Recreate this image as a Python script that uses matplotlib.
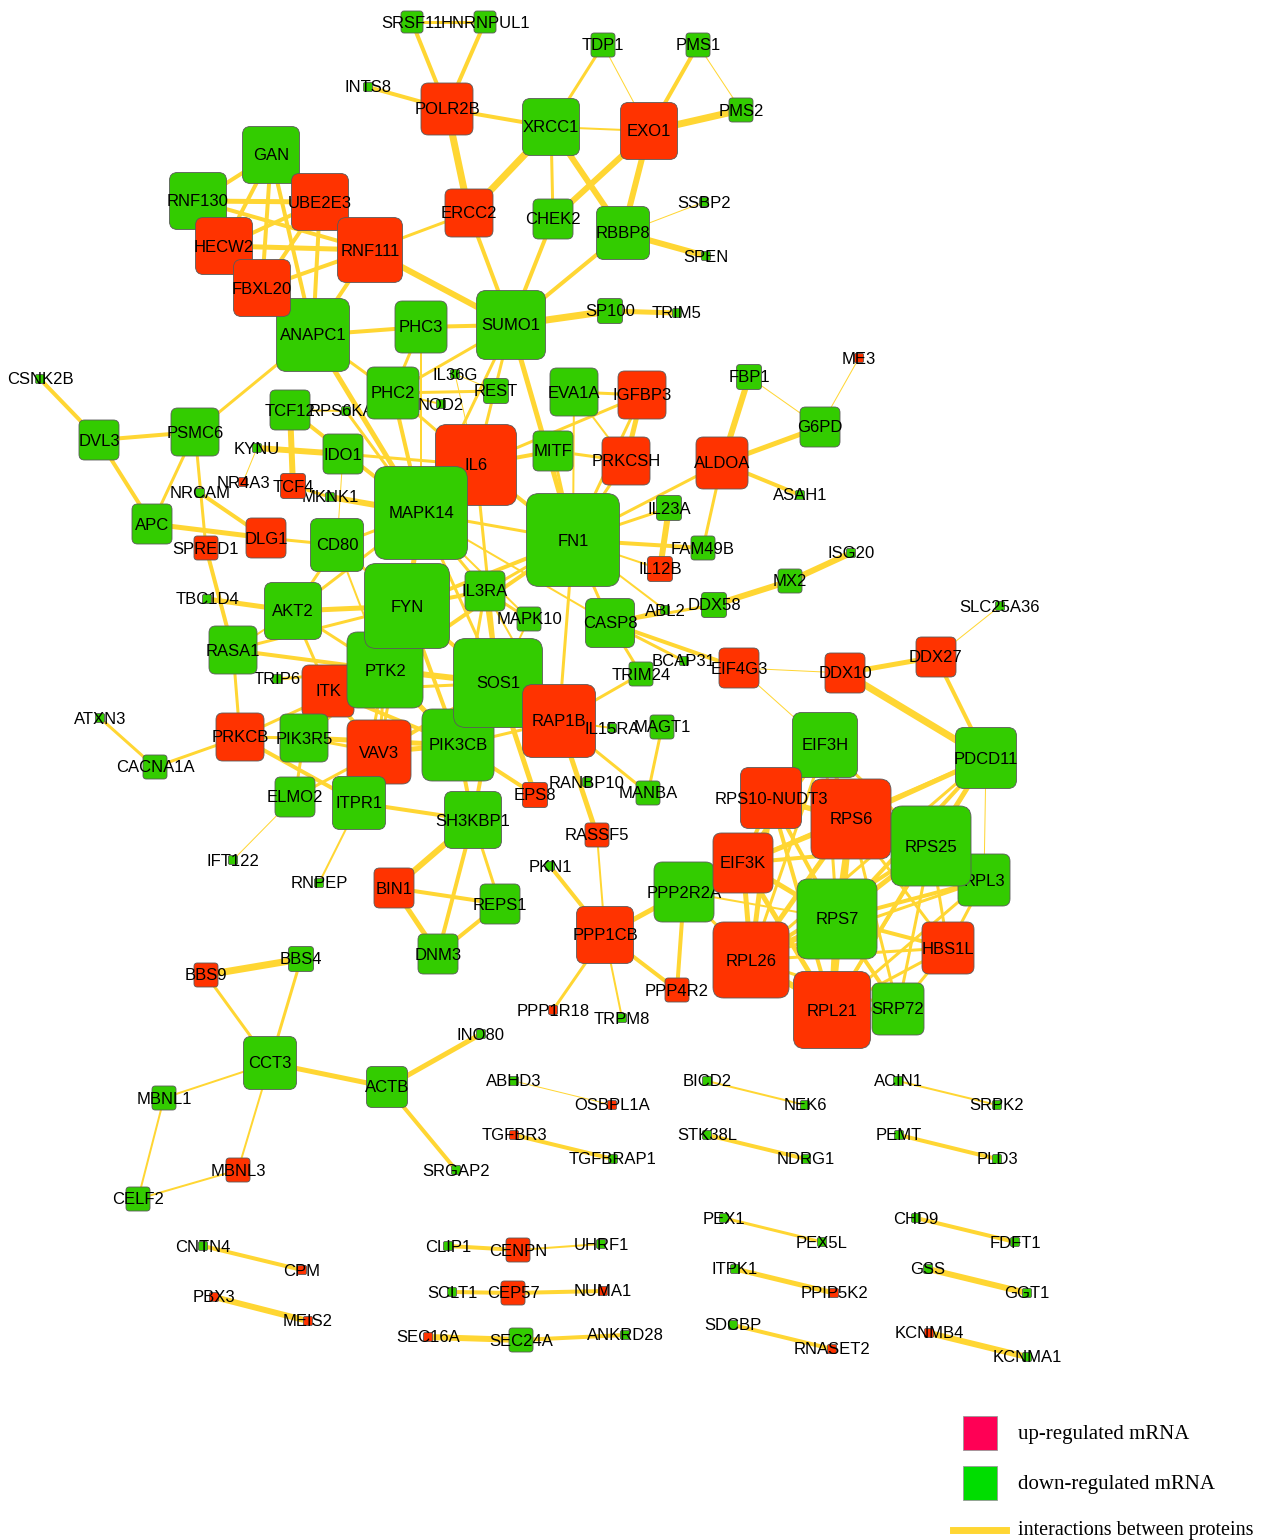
import matplotlib.pyplot as plt
from matplotlib.patches import FancyBboxPatch, Rectangle
from matplotlib.collections import LineCollection
from matplotlib.lines import Line2D

# differentially expressed genes
up_genes = ["POLR2B", "EXO1", "ERCC2", "UBE2E3", "HECW2", "RNF111", "FBXL20", "IL6",
            "IGFBP3", "PRKCSH", "ALDOA", "ME3", "NR4A3", "TCF4", "DLG1", "SPRED1", "IL12B",
            "EIF4G3", "DDX10", "DDX27", "ITK", "RAP1B", "PRKCB", "VAV3", "EPS8", "RASSF5",
            "BIN1", "PPP1CB", "PPP1R18", "PPP4R2", "RPS10-NUDT3", "RPS6", "EIF3K", "HBS1L",
            "RPL26", "RPL21", "BBS9", "MBNL3", "OSBPL1A", "TGFBR3", "PPIP5K2", "RNASET2",
            "KCNMB4", "CPM", "PBX3", "MEIS2", "CENPN", "CEP57", "NUMA1", "SEC16A"]

# protein-protein interactions (node a, node b, edge width in px)
edges = [
    ("SRSF11", "HNRNPUL1", 3), ("SRSF11", "POLR2B", 4), ("HNRNPUL1", "POLR2B", 4),
    ("INTS8", "POLR2B", 4), ("POLR2B", "XRCC1", 4), ("POLR2B", "ERCC2", 7),
    ("TDP1", "XRCC1", 3), ("TDP1", "EXO1", 1), ("PMS1", "EXO1", 4), ("PMS1", "PMS2", 1),
    ("EXO1", "PMS2", 7), ("XRCC1", "EXO1", 2), ("XRCC1", "ERCC2", 7), ("XRCC1", "CHEK2", 3),
    ("XRCC1", "RBBP8", 6), ("EXO1", "CHEK2", 6), ("EXO1", "RBBP8", 6), ("RBBP8", "SSBP2", 1),
    ("RBBP8", "SPEN", 6), ("RBBP8", "SUMO1", 4), ("CHEK2", "SUMO1", 4), ("ERCC2", "SUMO1", 4),
    ("ERCC2", "RNF111", 3), ("RNF111", "SUMO1", 6), ("SUMO1", "SP100", 7), ("SP100", "TRIM5", 5),
    ("SUMO1", "PHC3", 4), ("PHC3", "ANAPC1", 4), ("SUMO1", "PHC2", 3), ("SUMO1", "MAPK14", 3),
    ("SUMO1", "FN1", 5), ("SUMO1", "IL6", 3), ("PHC3", "PHC2", 3), ("PHC3", "MAPK14", 2),
    ("GAN", "RNF130", 4), ("GAN", "UBE2E3", 3), ("GAN", "HECW2", 4), ("GAN", "FBXL20", 4),
    ("GAN", "ANAPC1", 4), ("GAN", "RNF111", 3), ("RNF130", "UBE2E3", 5), ("RNF130", "RNF111", 4),
    ("RNF130", "HECW2", 3), ("RNF130", "FBXL20", 3), ("UBE2E3", "HECW2", 4), ("UBE2E3", "FBXL20", 4),
    ("UBE2E3", "ANAPC1", 4), ("UBE2E3", "RNF111", 3), ("HECW2", "RNF111", 5), ("HECW2", "ANAPC1", 3),
    ("FBXL20", "RNF111", 4), ("FBXL20", "ANAPC1", 3), ("RNF111", "ANAPC1", 4), ("ANAPC1", "PSMC6", 3),
    ("ANAPC1", "MAPK14", 5), ("ANAPC1", "PHC2", 3),
    ("CSNK2B", "DVL3", 4), ("DVL3", "PSMC6", 4), ("DVL3", "APC", 4), ("PSMC6", "APC", 3),
    ("PSMC6", "SPRED1", 3), ("APC", "DLG1", 5), ("NRCAM", "DLG1", 4), ("DLG1", "CD80", 3),
    ("SPRED1", "RASA1", 4), ("KYNU", "IDO1", 6), ("KYNU", "NR4A3", 1), ("IDO1", "IL6", 3),
    ("TCF12", "TCF4", 6), ("TCF12", "MAPK14", 4), ("TCF4", "MKNK1", 3), ("MKNK1", "MAPK14", 6),
    ("IDO1", "CD80", 1), ("TBC1D4", "AKT2", 5), ("RASA1", "AKT2", 2), ("RASA1", "FYN", 3),
    ("RASA1", "PTK2", 4), ("RASA1", "PRKCB", 3), ("AKT2", "FYN", 5), ("AKT2", "CD80", 3),
    ("AKT2", "ITK", 3), ("AKT2", "MAPK14", 3), ("AKT2", "PTK2", 3), ("TRIP6", "PTK2", 3),
    ("ATXN3", "CACNA1A", 3), ("CACNA1A", "PRKCB", 3), ("PRKCB", "PIK3R5", 3), ("PRKCB", "ITPR1", 4),
    ("PRKCB", "PTK2", 3), ("ELMO2", "IFT122", 1), ("ELMO2", "VAV3", 3), ("ELMO2", "PIK3R5", 3),
    ("ITPR1", "RNPEP", 2), ("ITPR1", "SH3KBP1", 4), ("ITPR1", "VAV3", 3), ("ITPR1", "PTK2", 3),
    ("RPS6KA5", "MAPK14", 3), ("RPS6KA5", "TCF12", 2), ("CD80", "FYN", 3), ("CD80", "MAPK14", 3),
    ("CD80", "PTK2", 2),
    ("MAPK14", "IL6", 4), ("MAPK14", "FN1", 3), ("MAPK14", "IL3RA", 3), ("MAPK14", "SOS1", 3),
    ("MAPK14", "FYN", 5), ("MAPK14", "PHC2", 4), ("MAPK14", "MAPK10", 2), ("MAPK14", "CASP8", 2),
    ("IL6", "FN1", 4), ("IL6", "MITF", 4), ("IL6", "PHC2", 3), ("IL6", "SOS1", 3), ("IL6", "IL36G", 1),
    ("IL6", "IGFBP3", 3), ("FYN", "PTK2", 5), ("FYN", "IL3RA", 4), ("FYN", "FN1", 4), ("FYN", "SOS1", 4),
    ("FYN", "PIK3CB", 4), ("FYN", "ITK", 4), ("FYN", "VAV3", 3), ("PTK2", "SOS1", 6), ("PTK2", "PIK3CB", 5),
    ("PTK2", "ITK", 4), ("PTK2", "VAV3", 3), ("PTK2", "PIK3R5", 4), ("PTK2", "FN1", 4),
    ("SOS1", "IL3RA", 4), ("SOS1", "PIK3CB", 5), ("SOS1", "VAV3", 4), ("SOS1", "RAP1B", 4),
    ("SOS1", "ITK", 3), ("SOS1", "EPS8", 5), ("SOS1", "SH3KBP1", 4), ("SOS1", "MAPK10", 2),
    ("PIK3CB", "VAV3", 5), ("PIK3CB", "PIK3R5", 5), ("PIK3CB", "ITK", 4), ("PIK3CB", "IL3RA", 3),
    ("PIK3CB", "EPS8", 4), ("PIK3CB", "SH3KBP1", 4), ("PIK3CB", "RAP1B", 3), ("VAV3", "ITK", 4),
    ("VAV3", "PIK3R5", 3), ("ITK", "PIK3R5", 3), ("IL3RA", "FN1", 3), ("IL3RA", "MAPK10", 3),
    ("RAP1B", "FN1", 3), ("RAP1B", "IL3RA", 2), ("RAP1B", "TRIM24", 3), ("RAP1B", "MANBA", 3),
    ("RAP1B", "RASSF5", 5), ("RAP1B", "IL15RA", 2),
    ("SH3KBP1", "BIN1", 6), ("SH3KBP1", "DNM3", 4), ("SH3KBP1", "REPS1", 3), ("BIN1", "REPS1", 4),
    ("BIN1", "DNM3", 5), ("DNM3", "REPS1", 4),
    ("RASSF5", "PPP1CB", 2), ("PKN1", "PPP1CB", 4), ("PPP1CB", "PPP1R18", 3), ("PPP1CB", "TRPM8", 2),
    ("PPP1CB", "PPP2R2A", 5), ("PPP1CB", "PPP4R2", 4), ("PPP4R2", "PPP2R2A", 4), ("MAGT1", "MANBA", 3),
    ("FBP1", "ALDOA", 6), ("FBP1", "G6PD", 1), ("ME3", "G6PD", 1), ("ALDOA", "G6PD", 5),
    ("ALDOA", "ASAH1", 4), ("ALDOA", "FAM49B", 3), ("ALDOA", "FN1", 3), ("IL23A", "IL12B", 6),
    ("FN1", "IL23A", 3), ("FN1", "FAM49B", 4), ("FN1", "IL12B", 2), ("FN1", "CASP8", 3),
    ("FN1", "ABL2", 2), ("DDX58", "MX2", 6), ("MX2", "ISG20", 6), ("CASP8", "DDX58", 3),
    ("CASP8", "ABL2", 3), ("CASP8", "EIF4G3", 4), ("CASP8", "BCAP31", 3), ("CASP8", "TRIM24", 3),
    ("EIF4G3", "DDX10", 1), ("EIF4G3", "EIF3H", 1), ("DDX10", "DDX27", 5), ("DDX10", "PDCD11", 7),
    ("DDX27", "SLC25A36", 1), ("DDX27", "PDCD11", 4), ("IGFBP3", "PRKCSH", 5), ("IGFBP3", "EVA1A", 3),
    ("IGFBP3", "FN1", 3), ("PRKCSH", "FN1", 3), ("PRKCSH", "MITF", 3), ("EVA1A", "PRKCSH", 2),
    ("EVA1A", "FN1", 2), ("MITF", "FN1", 3), ("REST", "PHC2", 3), ("NOD2", "PHC2", 2),
    ("IL36G", "REST", 1),
    ("PDCD11", "RPS6", 5), ("PDCD11", "RPS25", 5), ("PDCD11", "RPS7", 4), ("PDCD11", "RPL3", 1),
    ("PDCD11", "RPL26", 3), ("PDCD11", "RPL21", 3), ("PDCD11", "EIF3K", 3),
    ("EIF3H", "RPS6", 4), ("EIF3H", "RPS10-NUDT3", 3), ("EIF3H", "EIF3K", 5), ("EIF3H", "RPS7", 3),
    ("EIF3H", "RPL26", 3), ("EIF3H", "RPS25", 3),
    ("RPS10-NUDT3", "RPS6", 5), ("RPS10-NUDT3", "EIF3K", 4), ("RPS10-NUDT3", "RPS7", 4),
    ("RPS10-NUDT3", "RPL26", 5), ("RPS10-NUDT3", "RPL21", 4), ("RPS10-NUDT3", "RPS25", 3),
    ("RPS6", "RPS25", 5), ("RPS6", "RPS7", 6), ("RPS6", "RPL26", 5), ("RPS6", "RPL21", 5),
    ("RPS6", "EIF3K", 5), ("RPS6", "RPL3", 4), ("RPS6", "HBS1L", 3), ("RPS6", "SRP72", 3),
    ("RPS25", "RPS7", 5), ("RPS25", "RPL26", 4), ("RPS25", "RPL21", 4), ("RPS25", "EIF3K", 4),
    ("RPS25", "HBS1L", 3), ("RPS25", "SRP72", 3), ("RPS25", "RPL3", 4),
    ("RPL3", "RPS7", 4), ("RPL3", "RPL21", 3), ("RPL3", "HBS1L", 3), ("RPL3", "RPL26", 3),
    ("EIF3K", "RPS7", 5), ("EIF3K", "RPL26", 5), ("EIF3K", "RPL21", 5), ("EIF3K", "PPP2R2A", 3),
    ("RPS7", "HBS1L", 4), ("RPS7", "RPL26", 6), ("RPS7", "RPL21", 7), ("RPS7", "SRP72", 4),
    ("HBS1L", "RPL21", 3), ("HBS1L", "RPL26", 3), ("HBS1L", "SRP72", 3),
    ("RPL26", "RPL21", 6), ("RPL26", "SRP72", 3), ("RPL21", "SRP72", 4),
    ("PPP2R2A", "RPL26", 3), ("PPP2R2A", "RPS7", 2),
    ("BBS4", "BBS9", 7), ("BBS9", "CCT3", 3), ("BBS4", "CCT3", 3), ("CCT3", "ACTB", 5),
    ("CCT3", "MBNL1", 2), ("CCT3", "MBNL3", 2), ("MBNL1", "CELF2", 2), ("MBNL3", "CELF2", 2),
    ("ACTB", "INO80", 5), ("ACTB", "SRGAP2", 4), ("ABHD3", "OSBPL1A", 1), ("TGFBR3", "TGFBRAP1", 4),
    ("BICD2", "NEK6", 2), ("STK38L", "NDRG1", 4), ("ACIN1", "SRPK2", 2), ("PEMT", "PLD3", 4),
    ("PEX1", "PEX5L", 3), ("ITPK1", "PPIP5K2", 5), ("SDCBP", "RNASET2", 4), ("CHD9", "FDFT1", 4),
    ("GSS", "GGT1", 6), ("KCNMB4", "KCNMA1", 6), ("CNTN4", "CPM", 4), ("PBX3", "MEIS2", 6),
    ("CLIP1", "CENPN", 4), ("CENPN", "UHRF1", 2), ("SCLT1", "CEP57", 4), ("CEP57", "NUMA1", 4),
    ("SEC16A", "SEC24A", 6), ("SEC24A", "ANKRD28", 4),
]

# network layout: node -> (x, y, box side) in canvas pixels, listed in drawing order
layout = {
    # small nodes
    "INTS8": (368, 87, 9), "SSBP2": (704, 202, 9), "SPEN": (706, 256, 9), "TRIM5": (677, 313, 9),
    "CSNK2B": (40, 379, 9), "RPS6KA5": (346, 411, 9), "KYNU": (257, 448, 9), "MKNK1": (330, 497, 9),
    "NRCAM": (200, 493, 9), "IL36G": (455, 374, 9), "NOD2": (441, 404, 9), "ASAH1": (800, 495, 9),
    "ABL2": (665, 610, 9), "ISG20": (851, 553, 9), "BCAP31": (684, 661, 9), "SLC25A36": (1000, 606, 9),
    "RANBP10": (587, 782, 9), "TBC1D4": (207, 599, 9), "TRIP6": (277, 679, 9),
    "ATXN3": (100, 718, 9), "IFT122": (233, 860, 9), "RNPEP": (319, 883, 9), "PKN1": (550, 866, 9),
    "TRPM8": (622, 1018, 9), "INO80": (481, 1034, 9), "SRGAP2": (456, 1170, 9), "ABHD3": (514, 1081, 9),
    "TGFBRAP1": (613, 1159, 9), "BICD2": (707, 1081, 9), "NEK6": (805, 1105, 9), "STK38L": (707, 1135, 9),
    "NDRG1": (806, 1159, 9), "ACIN1": (898, 1081, 9), "SRPK2": (997, 1105, 9), "PEMT": (899, 1135, 9),
    "PLD3": (997, 1159, 9), "PEX1": (724, 1218, 9), "PEX5L": (822, 1242, 9), "ITPK1": (735, 1269, 9),
    "SDCBP": (733, 1325, 9), "CHD9": (916, 1218, 9), "FDFT1": (1015, 1242, 9), "GSS": (928, 1269, 9),
    "GGT1": (1027, 1293, 9), "KCNMA1": (1027, 1357, 9), "CNTN4": (203, 1246, 9), "CLIP1": (448, 1246, 9),
    "UHRF1": (601, 1244, 9), "SCLT1": (452, 1292, 9), "ANKRD28": (625, 1335, 9),
    "ME3": (859, 358, 9), "NR4A3": (243, 482, 9), "PPP1R18": (553, 1010, 9), "OSBPL1A": (612, 1105, 9),
    "TGFBR3": (514, 1135, 9), "PPIP5K2": (834, 1293, 9), "RNASET2": (832, 1349, 9),
    "KCNMB4": (929, 1333, 9), "CPM": (302, 1270, 9), "PBX3": (214, 1297, 9), "MEIS2": (308, 1321, 9),
    "NUMA1": (603, 1291, 9), "SEC16A": (428, 1337, 9),
    # medium nodes
    "SRSF11": (412, 22, 22), "HNRNPUL1": (485, 22, 22), "TDP1": (603, 45, 24), "PMS1": (698, 45, 24),
    "PMS2": (741, 110, 24), "SP100": (610, 311, 25), "REST": (496, 391, 25), "FBP1": (749, 377, 25),
    "IL23A": (669, 508, 25), "FAM49B": (703, 548, 24), "DDX58": (714, 605, 25), "MX2": (790, 581, 24),
    "MAPK10": (529, 619, 24), "TRIM24": (641, 674, 24), "MAGT1": (662, 727, 24), "MANBA": (648, 793, 24),
    "CACNA1A": (155, 767, 24), "BBS4": (301, 959, 25), "MBNL1": (164, 1098, 24), "CELF2": (138, 1199, 24),
    "SEC24A": (521, 1340, 24), "TCF4": (293, 486, 25), "SPRED1": (206, 548, 24), "IL12B": (660, 569, 25),
    "EPS8": (535, 795, 25), "RASSF5": (597, 835, 24), "PPP4R2": (677, 990, 24), "BBS9": (206, 975, 24),
    "MBNL3": (238, 1170, 24), "CENPN": (518, 1250, 24), "CEP57": (513, 1293, 24),
    # large nodes
    "POLR2B": (447, 109, 52), "XRCC1": (551, 127, 57), "EXO1": (649, 131, 57), "ERCC2": (469, 213, 48),
    "CHEK2": (553, 219, 40), "RBBP8": (623, 233, 53), "SUMO1": (511, 325, 69),
    "GAN": (271, 155, 57), "RNF130": (198, 201, 57), "HECW2": (224, 246, 57), "UBE2E3": (320, 202, 57),
    "ANAPC1": (313, 335, 73), "FBXL20": (262, 288, 57), "RNF111": (370, 250, 65), "PHC3": (421, 327, 52),
    "DVL3": (99, 440, 40), "PSMC6": (195, 432, 48), "TCF12": (290, 410, 40), "IDO1": (343, 454, 40),
    "APC": (152, 524, 40), "DLG1": (266, 538, 40), "CD80": (337, 545, 53), "PHC2": (393, 393, 52),
    "EVA1A": (574, 392, 48), "IGFBP3": (642, 395, 48), "PRKCSH": (626, 461, 48), "ALDOA": (722, 463, 52),
    "G6PD": (820, 427, 40), "MITF": (553, 451, 40), "IL6": (476, 465, 81), "MAPK14": (421, 513, 93),
    "FN1": (573, 540, 93), "IL3RA": (485, 591, 40), "AKT2": (293, 611, 57), "RASA1": (233, 650, 48),
    "CASP8": (610, 623, 49), "EIF4G3": (739, 668, 40), "DDX10": (845, 673, 40), "DDX27": (936, 657, 40),
    "ITK": (328, 691, 52), "PTK2": (385, 670, 76), "FYN": (407, 606, 85), "PIK3CB": (458, 745, 72),
    "SOS1": (498, 683, 89), "RAP1B": (559, 721, 73), "IL15RA": (612, 728, 9),
    "PRKCB": (240, 737, 48), "PIK3R5": (304, 738, 48),
    "VAV3": (379, 752, 64), "ELMO2": (295, 797, 40), "ITPR1": (359, 803, 53), "SH3KBP1": (473, 820, 57),
    "BIN1": (394, 888, 40), "REPS1": (500, 904, 40), "DNM3": (438, 954, 40), "PPP1CB": (605, 935, 57),
    "PPP2R2A": (684, 892, 60), "EIF3H": (825, 745, 65),
    "RPS6": (851, 819, 80), "RPS10-NUDT3": (771, 798, 61), "PDCD11": (986, 758, 61),
    "RPL3": (984, 880, 52), "RPS25": (931, 846, 80),
    "EIF3K": (743, 863, 60), "RPS7": (837, 919, 80), "HBS1L": (948, 948, 52), "RPL26": (751, 960, 76),
    "RPL21": (832, 1010, 77), "SRP72": (898, 1009, 52), "CCT3": (270, 1063, 53), "ACTB": (387, 1087, 41),
}

UP_COLOR = "#FF3300"
DOWN_COLOR = "#33CC00"
EDGE_COLOR = "#FFD633"

W, H = 1264, 1540
fig = plt.figure(figsize=(W / 100, H / 100), dpi=100)
ax = fig.add_axes([0, 0, 1, 1])
ax.set_xlim(0, W)
ax.set_ylim(H, 0)
ax.axis("off")

# edges
segs = [[layout[a][:2], layout[b][:2]] for a, b, _ in edges]
widths = [w * 0.72 for _, _, w in edges]
ax.add_collection(LineCollection(segs, colors=EDGE_COLOR, linewidths=widths,
                                 capstyle="butt", zorder=1))

# nodes with their labels
for i, (name, (x, y, s)) in enumerate(layout.items()):
    z = 2 + i * 0.01
    color = UP_COLOR if name in up_genes else DOWN_COLOR
    box = FancyBboxPatch((x - s / 2, y - s / 2), s, s,
                         boxstyle=f"round,pad=0,rounding_size={max(s * 0.14, 1.5)}",
                         facecolor=color, edgecolor="#5a5a5a", linewidth=0.6, zorder=z)
    ax.add_patch(box)
    ax.text(x, y + 1, name, ha="center", va="center", fontsize=12,
            family="Liberation Sans", color="black", zorder=z + 0.005)

# legend
ax.add_patch(Rectangle((963, 1416), 34, 34, facecolor="#FF0055", edgecolor="#999999",
                       linewidth=0.6, zorder=5))
ax.add_patch(Rectangle((963, 1466), 34, 34, facecolor="#00DD00", edgecolor="#999999",
                       linewidth=0.6, zorder=5))
ax.add_line(Line2D([953, 1006], [1530, 1530], color=EDGE_COLOR, linewidth=5, zorder=5))
legend_font = dict(fontsize=15, family="Liberation Serif", va="center", ha="left")
ax.text(1018, 1435, "up-regulated mRNA", **legend_font)
ax.text(1018, 1485, "down-regulated mRNA", **legend_font)
ax.text(1018, 1531, "interactions between proteins", fontsize=14.5,
        family="Liberation Serif", va="center", ha="left")

fig.savefig("out.png", dpi=100)
